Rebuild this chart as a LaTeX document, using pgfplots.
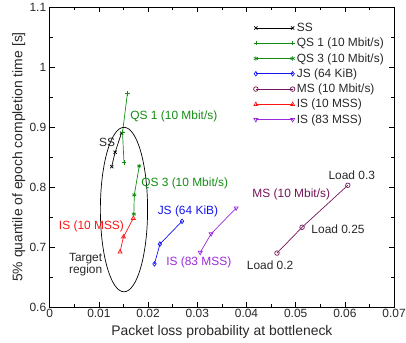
\documentclass[border=0pt]{standalone}
\usepackage{pgfplots}
\pgfplotsset{compat=1.18}
\usepackage{fontspec}
\setmainfont{Liberation Sans}
\usetikzlibrary{plotmarks}
\definecolor{qsgreen}{RGB}{20,140,20}
\definecolor{jsblue}{RGB}{20,20,240}
\definecolor{msplum}{RGB}{115,20,90}
\definecolor{isred}{RGB}{250,20,20}
\definecolor{isviolet}{RGB}{155,40,220}
\definecolor{txt}{RGB}{40,40,40}
\begin{document}
\begin{tikzpicture}
\useasboundingbox (-50pt,-36pt) rectangle (358.5pt,309pt);
\begin{axis}[
  at={(0pt,0pt)}, anchor=south west,
  scale only axis,
  width=346.5pt, height=302pt,
  xmin=0, xmax=0.07, ymin=0.6, ymax=1.1,
  xtick={0,0.01,...,0.07},
  xticklabels={0,0.01,0.02,0.03,0.04,0.05,0.06,0.07},
  ytick={0.6,0.7,0.8,0.9,1.0,1.1},
  yticklabels={0.6,0.7,0.8,0.9,1,1.1},
  minor x tick num=1, minor y tick num=1,
  tick align=inside, tick pos=both,
  major tick length=5pt, minor tick length=3pt,
  scaled x ticks=false,
  /pgf/number format/assume math mode=true,
  tick label style={font=\fontsize{12}{13}\selectfont, text=txt},
  xticklabel style={yshift=1pt},
  every axis x label/.style={at={([yshift=-25pt]axis description cs:0.5,0)}, anchor=center,
     font=\fontsize{14}{16}\selectfont, text=txt},
  every axis y label/.style={at={([xshift=-31pt]axis description cs:0,0.5)}, rotate=90, anchor=center,
     font=\fontsize{14}{16}\selectfont, text=txt},
  xlabel={Packet loss probability at bottleneck},
  ylabel={5\% quantile of epoch completion time [s]},
  axis line style={line width=0.8pt},
  every tick/.style={line width=0.6pt, black},
  legend style={draw=none, fill=none, at={(0.985,0.96)}, anchor=north east,
    font=\fontsize{12}{13}\selectfont, text=txt, row sep=1.2pt,
    legend cell align=left},
  legend image code/.code={\draw[#1] plot coordinates {(0pt,0pt) (37pt,0pt)};},
  every axis plot/.append style={line width=0.7pt, mark size=2.3pt, mark options={solid}},
]
\addplot[black, mark=x] coordinates {(0.0126,0.834) (0.0133,0.858) (0.0146,0.890)};
\addlegendentry{SS}
\addplot[qsgreen, mark=+] coordinates {(0.0151,0.841) (0.0148,0.891) (0.0158,0.956)};
\addlegendentry{QS 1 (10 Mbit/s)}
\addplot[qsgreen, mark=asterisk] coordinates {(0.0171,0.755) (0.0172,0.787) (0.0182,0.835)};
\addlegendentry{QS 3 (10 Mbit/s)}
\addplot[jsblue, mark=diamond] coordinates {(0.0213,0.672) (0.0224,0.705) (0.0269,0.743)};
\addlegendentry{JS (64 KiB)}
\addplot[msplum, mark=o] coordinates {(0.0462,0.690) (0.0513,0.733) (0.0606,0.803)};
\addlegendentry{MS (10 Mbit/s)}
\addplot[isred, mark=triangle] coordinates {(0.0143,0.692) (0.0150,0.717) (0.0170,0.748)};
\addlegendentry{IS (10 MSS)}
\addplot[isviolet, mark=triangle, mark options={rotate=180}] coordinates {(0.0306,0.691) (0.0328,0.722) (0.0379,0.765)};
\addlegendentry{IS (83 MSS)}

\draw[black, line width=0.7pt] (axis cs:0.0151,0.7625) ellipse [x radius=0.0048*346.5/0.07 pt, y radius=0.137*302/0.5 pt];

\begin{scope}[font=\fontsize{12}{13}\selectfont]
\node[anchor=west, text=qsgreen] at (axis cs:0.0157,0.918) {QS 1 (10 Mbit/s)};
\node[anchor=east, text=txt] at (axis cs:0.0140,0.875) {SS};
\node[anchor=west, text=qsgreen] at (axis cs:0.0179,0.8055) {QS 3 (10 Mbit/s)};
\node[text=jsblue] at (axis cs:0.0281,0.760) {JS (64 KiB)};
\node[anchor=east, text=isred] at (axis cs:0.0158,0.735) {IS (10 MSS)};
\node[text=isviolet] at (axis cs:0.0303,0.674) {IS (83 MSS)};
\node[text=msplum] at (axis cs:0.0491,0.788) {MS (10 Mbit/s)};
\node[text=txt] at (axis cs:0.0614,0.819) {Load 0.3};
\node[anchor=west, text=txt] at (axis cs:0.0525,0.729) {Load 0.25};
\node[text=txt] at (axis cs:0.0448,0.670) {Load 0.2};
\node[text=txt, align=center] at (axis cs:0.0073,0.670) {Target\\[-1pt]region};
\end{scope}
\end{axis}
\end{tikzpicture}
\end{document}
